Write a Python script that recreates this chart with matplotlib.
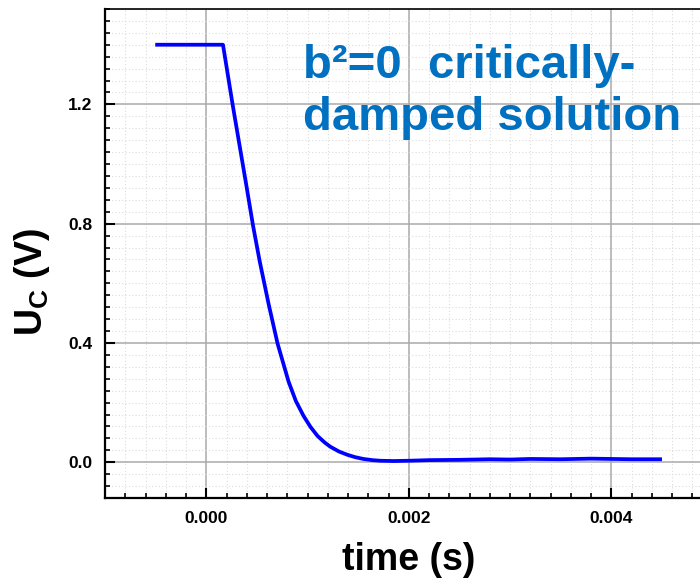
import numpy as np
import matplotlib
matplotlib.use("Agg")
import matplotlib.pyplot as plt
from matplotlib.ticker import MultipleLocator

# capacitor voltage
time_s = [-0.000504, 0.000165, 0.000260, 0.000395, 0.000461, 0.000527,
          0.000616, 0.000704, 0.000813, 0.000885, 0.000961, 0.001030,
          0.001099, 0.001170, 0.001225, 0.001310, 0.001393, 0.001470,
          0.001551, 0.001640, 0.001719, 0.001850, 0.002000, 0.002200,
          0.002500, 0.002800, 0.003000, 0.003200, 0.003500, 0.003800,
          0.004000, 0.004200, 0.004500]
uc_volts = [1.400, 1.400, 1.200, 0.930, 0.795, 0.675,
            0.530, 0.398, 0.270, 0.205, 0.155, 0.118,
            0.088, 0.066, 0.052, 0.036, 0.025, 0.017,
            0.011, 0.007, 0.005, 0.004, 0.005, 0.007,
            0.008, 0.010, 0.009, 0.011, 0.010, 0.012,
            0.011, 0.010, 0.010]

x_ticks = [0.000, 0.002, 0.004]
y_ticks = [0.0, 0.4, 0.8, 1.2]

plt.rcParams['font.family'] = ['Liberation Sans', 'DejaVu Sans']
plt.rcParams['font.weight'] = 'bold'
plt.rcParams['mathtext.fontset'] = 'custom'
plt.rcParams['mathtext.rm'] = 'Liberation Sans:bold'
plt.rcParams['mathtext.bf'] = 'Liberation Sans:bold'

fig = plt.figure(figsize=(7.0, 5.85), dpi=100)
ax = fig.add_axes([0.15, 0.1487, 0.868, 0.836])

ax.plot(time_s, uc_volts, color='#0000ff', lw=2.7, zorder=3,
        solid_joinstyle='round', solid_capstyle='butt')

ax.set_xlim(-0.001, 0.005)
ax.set_ylim(-0.12, 1.52)
ax.set_xticks(x_ticks)
ax.set_yticks(y_ticks)
ax.xaxis.set_minor_locator(MultipleLocator(0.0002))
ax.yaxis.set_minor_locator(MultipleLocator(0.04))
ax.set_xticklabels(['%.3f' % v for v in x_ticks])
ax.set_yticklabels(['%.1f' % v for v in y_ticks])

ax.grid(which='major', color='#aaaaaa', lw=1.1, ls='-', zorder=1)
ax.grid(which='minor', color='#dcdcdc', lw=0.8, ls=(0, (1, 2)), zorder=0)
ax.set_axisbelow(True)

ax.tick_params(which='major', direction='in', length=7, width=1.5,
               labelsize=12.5, pad=9, top=False, right=False)
ax.tick_params(which='minor', direction='in', length=3.6, width=1.2,
               top=False, right=False)
for lab in ax.get_xticklabels() + ax.get_yticklabels():
    lab.set_fontweight('bold')

for side in ['left', 'bottom']:
    ax.spines[side].set_linewidth(1.6)
ax.spines['top'].set_linewidth(1.2)
ax.spines['right'].set_visible(False)

ax.set_xlabel('time (s)', fontsize=27, fontweight='bold', labelpad=12)
fig.text(32 / 700, 1 - 282 / 585, 'U$_{\\mathrm{C}}$ (V)', fontsize=27,
         fontweight='bold', rotation=90, ha='center', va='center')

fig.text(303 / 700, 1 - 44 / 585, 'b\u00b2=0  critically-\ndamped solution',
         color='#0070c0', fontsize=34, fontweight='bold',
         ha='left', va='top', linespacing=1.25)

fig.savefig('out.png', dpi=100)
